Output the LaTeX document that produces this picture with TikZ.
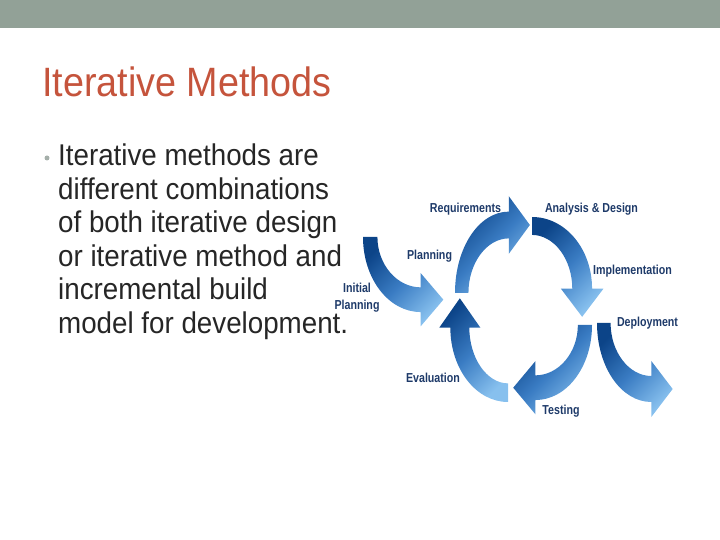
\documentclass[tikz,border=0pt]{standalone}
\usepackage{fontspec}
\setmainfont{Liberation Sans}
\newfontfamily\titlefont[FakeStretch=0.92]{Liberation Sans}
\newfontfamily\slidefont[FakeStretch=0.925]{Liberation Sans}
\newfontfamily\stepfont[FakeStretch=0.82]{Liberation Sans}
\usepackage{tikz}

\definecolor{bandgray}{RGB}{146,161,151}
\definecolor{titlered}{RGB}{197,84,60}
\definecolor{bodygray}{RGB}{38,38,38}
\definecolor{dotgray}{RGB}{165,175,170}
\definecolor{stepblue}{RGB}{30,58,105}
\definecolor{arrowdark}{RGB}{12,68,136}
\definecolor{arrowmid}{RGB}{58,124,195}
\definecolor{arrowlight}{RGB}{135,192,238}

\tikzset{
  bendarrow/.pic={
    \shade[top color=arrowdark, bottom color=arrowlight, middle color=arrowmid, shading angle=45]
      (0,0) -- (14,0) .. controls (14,29) and (33,53) .. (56,53) -- (56,38) -- (78,66)
      -- (56,94) -- (56,79) .. controls (25,79) and (0,44) .. (0,0) -- cycle;
  }
}

\begin{document}
\begin{tikzpicture}[x=1pt,y=1pt,
  steplabel/.style={font=\stepfont\bfseries\fontsize{13}{17}\selectfont,text=stepblue,inner sep=0pt,anchor=base},
  bodyline/.style={font=\slidefont\fontsize{30}{36}\selectfont,text=bodygray,inner sep=0pt,anchor=base west}]
\useasboundingbox (0,0) rectangle (720,540);
\fill[bandgray] (0,512) rectangle (720,540);

\node[font=\titlefont\fontsize{41}{49}\selectfont,text=titlered,inner sep=0pt,anchor=base west] (title) at (42,443) {Iterative Methods};
\node[circle,fill=dotgray,inner sep=0pt,minimum size=5pt] (dot) at (47,382) {};
\foreach \i/\txt in %
{0/Iterative methods are,1/different combinations,2/of both iterative design,3/or iterative method and,4/incremental build,5/model for development.} {
   \node[bodyline] (line\i) at (58,374-33.5*\i) {\txt};
}

% the cycle
\pic[shift={(455,247)},xscale=0.96,yscale=1.03] (req) {bendarrow};
\pic[shift={(532,323)},rotate=-90,xscale=1.28,yscale=0.76] (ana) {bendarrow};
\pic[shift={(592,215)},rotate=180,xscale=1.01,yscale=0.95] (tst) {bendarrow};
\pic[shift={(508,138)},rotate=90,xscale=1.33,yscale=0.73] (evl) {bendarrow};
\pic[shift={(363,303)},xscale=1.03,yscale=-0.95] (ini) {bendarrow};
\pic[shift={(597,217)},xscale=0.97,yscale=-1] (dep) {bendarrow};

\node[steplabel] (requirements) at (465.5,327) {Requirements};
\node[steplabel] (analysis) at (591.5,327) {Analysis \& Design};
\node[steplabel] (planning) at (429.5,280) {Planning};
\node[steplabel] (implementation) at (632.5,265) {Implementation};
\node[steplabel,anchor=center,align=center] (initial) at (357,242.5) {Initial\\Planning};
\node[steplabel] (deployment) at (647.5,213) {Deployment};
\node[steplabel] (evaluation) at (433,157) {Evaluation};
\node[steplabel] (testing) at (561,125) {Testing};
\end{tikzpicture}
\end{document}
